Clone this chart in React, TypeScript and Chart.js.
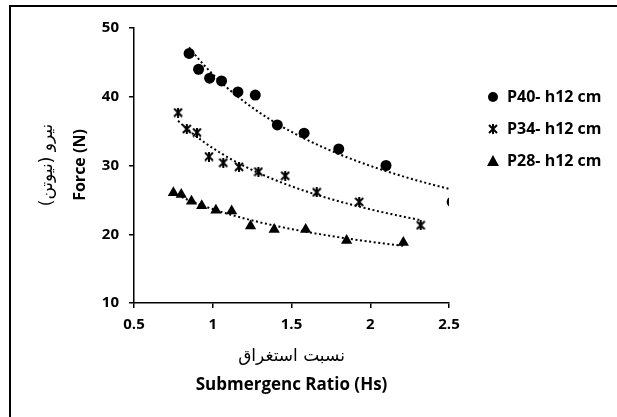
import React, { useEffect, useRef } from "react";
import { Chart, registerables } from "chart.js";
Chart.register(...registerables);

const p40X = [0.85, 0.91, 0.98, 1.056, 1.16, 1.27, 1.41, 1.58, 1.8, 2.1, 2.52];
const p40Y = [46.3, 44.0, 42.7, 42.3, 40.7, 40.25, 35.9, 34.7, 32.4, 30.0, 24.7];
const p34X = [0.78, 0.835, 0.9, 0.976, 1.067, 1.167, 1.29, 1.46, 1.66, 1.93, 2.32];
const p34Y = [37.7, 35.3, 34.8, 31.3, 30.4, 29.8, 29.1, 28.5, 26.1, 24.7, 21.3];
const p28X = [0.75, 0.8, 0.865, 0.93, 1.02, 1.12, 1.24, 1.39, 1.59, 1.85, 2.21];
const p28Y = [26.05, 25.8, 24.8, 24.15, 23.5, 23.4, 21.2, 20.7, 20.7, 19.1, 18.8];
const seriesNames = ["P40- h12 cm", "P34- h12 cm", "P28- h12 cm"];
const xTickValues = [0.5, 1, 1.5, 2, 2.5];
const yTickValues = [10, 20, 30, 40, 50];
const xTitleFa = "نسبت استغراق";
const xTitleEn = "Submergenc Ratio (Hs)";
const yTitleFa = "نیرو (نیوتن)";
const yTitleEn = "Force (N)";

const FONT = "'Open Sans', Lato, sans-serif";
const FA_FONT = "'DejaVu Sans', sans-serif";

function toPoints(xs: number[], ys: number[]) {
  return xs.map((x, i) => ({ x, y: ys[i] }));
}

// Excel-style power trendline (least squares in log-log space), sampled over the data range
function powerTrend(xs: number[], ys: number[], steps = 60) {
  const n = xs.length;
  let sx = 0, sy = 0, sxx = 0, sxy = 0;
  for (let i = 0; i < n; i++) {
    const lx = Math.log(xs[i]);
    const ly = Math.log(ys[i]);
    sx += lx; sy += ly; sxx += lx * lx; sxy += lx * ly;
  }
  const b = (n * sxy - sx * sy) / (n * sxx - sx * sx);
  const a = Math.exp((sy - b * sx) / n);
  const x0 = Math.min(...xs);
  const x1 = Math.max(...xs);
  const pts: { x: number; y: number }[] = [];
  for (let i = 0; i <= steps; i++) {
    const x = x0 + ((x1 - x0) * i) / steps;
    pts.push({ x, y: a * Math.pow(x, b) });
  }
  return pts;
}

function makeStar(size: number) {
  const c = document.createElement("canvas");
  c.width = size;
  c.height = size;
  const ctx = c.getContext("2d")!;
  ctx.strokeStyle = "#000";
  ctx.lineWidth = 2;
  const m = 1;
  ctx.beginPath();
  ctx.moveTo(m, m);
  ctx.lineTo(size - m, size - m);
  ctx.moveTo(size - m, m);
  ctx.lineTo(m, size - m);
  ctx.moveTo(size / 2, 0);
  ctx.lineTo(size / 2, size);
  ctx.stroke();
  return c;
}

export default function App() {
  const ref = useRef<HTMLCanvasElement>(null);

  useEffect(() => {
    const star = makeStar(10);
    const markerStyles: any[] = ["circle", star, "triangle"];
    const markerRadius = [5.5, 5, 6.5];

    const trendCommon = {
      type: "line" as const,
      showLine: true,
      pointRadius: 0,
      borderColor: "#000",
      borderWidth: 2,
      borderDash: [2, 2.6],
      fill: false,
      tension: 0,
    };

    const allX = [p40X, p34X, p28X];
    const allY = [p40Y, p34Y, p28Y];

    const datasets: any[] = [];
    for (let i = 0; i < 3; i++) {
      datasets.push({
        ...trendCommon,
        label: seriesNames[i] + " trend",
        data: powerTrend(allX[i], allY[i]),
      });
    }
    for (let i = 0; i < 3; i++) {
      datasets.push({
        type: "scatter",
        label: seriesNames[i],
        data: toPoints(allX[i], allY[i]),
        pointStyle: markerStyles[i],
        pointRadius: markerRadius[i],
        backgroundColor: "#000",
        borderColor: "#000",
        borderWidth: 0,
      });
    }

    const decor = {
      id: "decor",
      afterDraw(chart: any) {
        const ctx = chart.ctx as CanvasRenderingContext2D;
        ctx.save();
        ctx.fillStyle = "#000";
        // outer frame (top & left visible)
        ctx.fillRect(9, 5, 617, 2);
        ctx.fillRect(9, 5, 2, 417);

        const area = chart.chartArea;
        const cx = (area.left + area.right) / 2;
        ctx.textAlign = "center";
        ctx.textBaseline = "middle";
        ctx.font = `17px ${FA_FONT}`;
        ctx.fillText(xTitleFa, cx, 357);
        ctx.font = `bold 17px ${FONT}`;
        ctx.fillText(xTitleEn, cx, 385);

        const cy = 165;
        ctx.save();
        ctx.translate(48, cy);
        ctx.rotate(-Math.PI / 2);
        ctx.font = `17px ${FA_FONT}`;
        ctx.fillText(yTitleFa, 0, 0);
        ctx.restore();
        ctx.save();
        ctx.translate(80, cy);
        ctx.rotate(-Math.PI / 2);
        ctx.font = `bold 16px ${FONT}`;
        ctx.fillText(yTitleEn, 0, 0);
        ctx.restore();

        // legend
        const rows = [97, 129, 161];
        const mx = 493;
        for (let i = 0; i < 3; i++) {
          const y = rows[i];
          ctx.fillStyle = "#000";
          ctx.strokeStyle = "#000";
          if (i === 0) {
            ctx.beginPath();
            ctx.arc(mx, y, 5, 0, Math.PI * 2);
            ctx.fill();
          } else if (i === 1) {
            ctx.drawImage(star, mx - 5, y - 5, 10, 10);
          } else {
            ctx.beginPath();
            ctx.moveTo(mx, y - 6);
            ctx.lineTo(mx + 6, y + 5);
            ctx.lineTo(mx - 6, y + 5);
            ctx.closePath();
            ctx.fill();
          }
          ctx.textAlign = "left";
          ctx.font = `bold 16px ${FONT}`;
          ctx.fillText(seriesNames[i], 507, y);
        }
        ctx.restore();
      },
    };

    const chart = new Chart(ref.current!, {
      type: "scatter",
      data: { datasets },
      options: {
        animation: false,
        responsive: false,
        layout: { padding: { top: 28, right: 168, left: 0, bottom: 0 } },
        plugins: {
          legend: { display: false },
          tooltip: { enabled: false },
          title: { display: false },
        },
        scales: {
          x: {
            type: "linear",
            min: 0.5,
            max: 2.5,
            afterFit: (s: any) => {
              s.height = 114;
            },
            afterBuildTicks: (s: any) => {
              s.ticks = xTickValues.map((v) => ({ value: v }));
            },
            ticks: {
              color: "#000",
              font: { family: FONT, size: 15, weight: "bold" },
              padding: 8,
              maxRotation: 0,
              callback: (v: any) => String(v),
            },
            grid: {
              display: true,
              drawOnChartArea: false,
              drawTicks: true,
              tickLength: 5,
              color: "#000",
              lineWidth: 1.5,
            },
            border: { display: true, color: "#000", width: 1.5 },
          },
          y: {
            type: "linear",
            min: 10,
            max: 50,
            afterFit: (s: any) => {
              s.width = 134;
            },
            afterBuildTicks: (s: any) => {
              s.ticks = yTickValues.map((v) => ({ value: v }));
            },
            ticks: {
              color: "#000",
              font: { family: FONT, size: 15, weight: "bold" },
              padding: 10,
              callback: (v: any) => String(v),
            },
            grid: {
              display: true,
              drawOnChartArea: false,
              drawTicks: true,
              tickLength: 5,
              color: "#000",
              lineWidth: 1.5,
            },
            border: { display: true, color: "#000", width: 1.5 },
          },
        },
      },
      plugins: [decor],
    });
    return () => chart.destroy();
  }, []);

  return (
    <div
      style={{
        position: "fixed",
        left: 0,
        top: 0,
        width: 617,
        height: 417,
        background: "#fff",
      }}
    >
      <canvas ref={ref} width={617} height={417} style={{ width: 617, height: 417 }} />
    </div>
  );
}
